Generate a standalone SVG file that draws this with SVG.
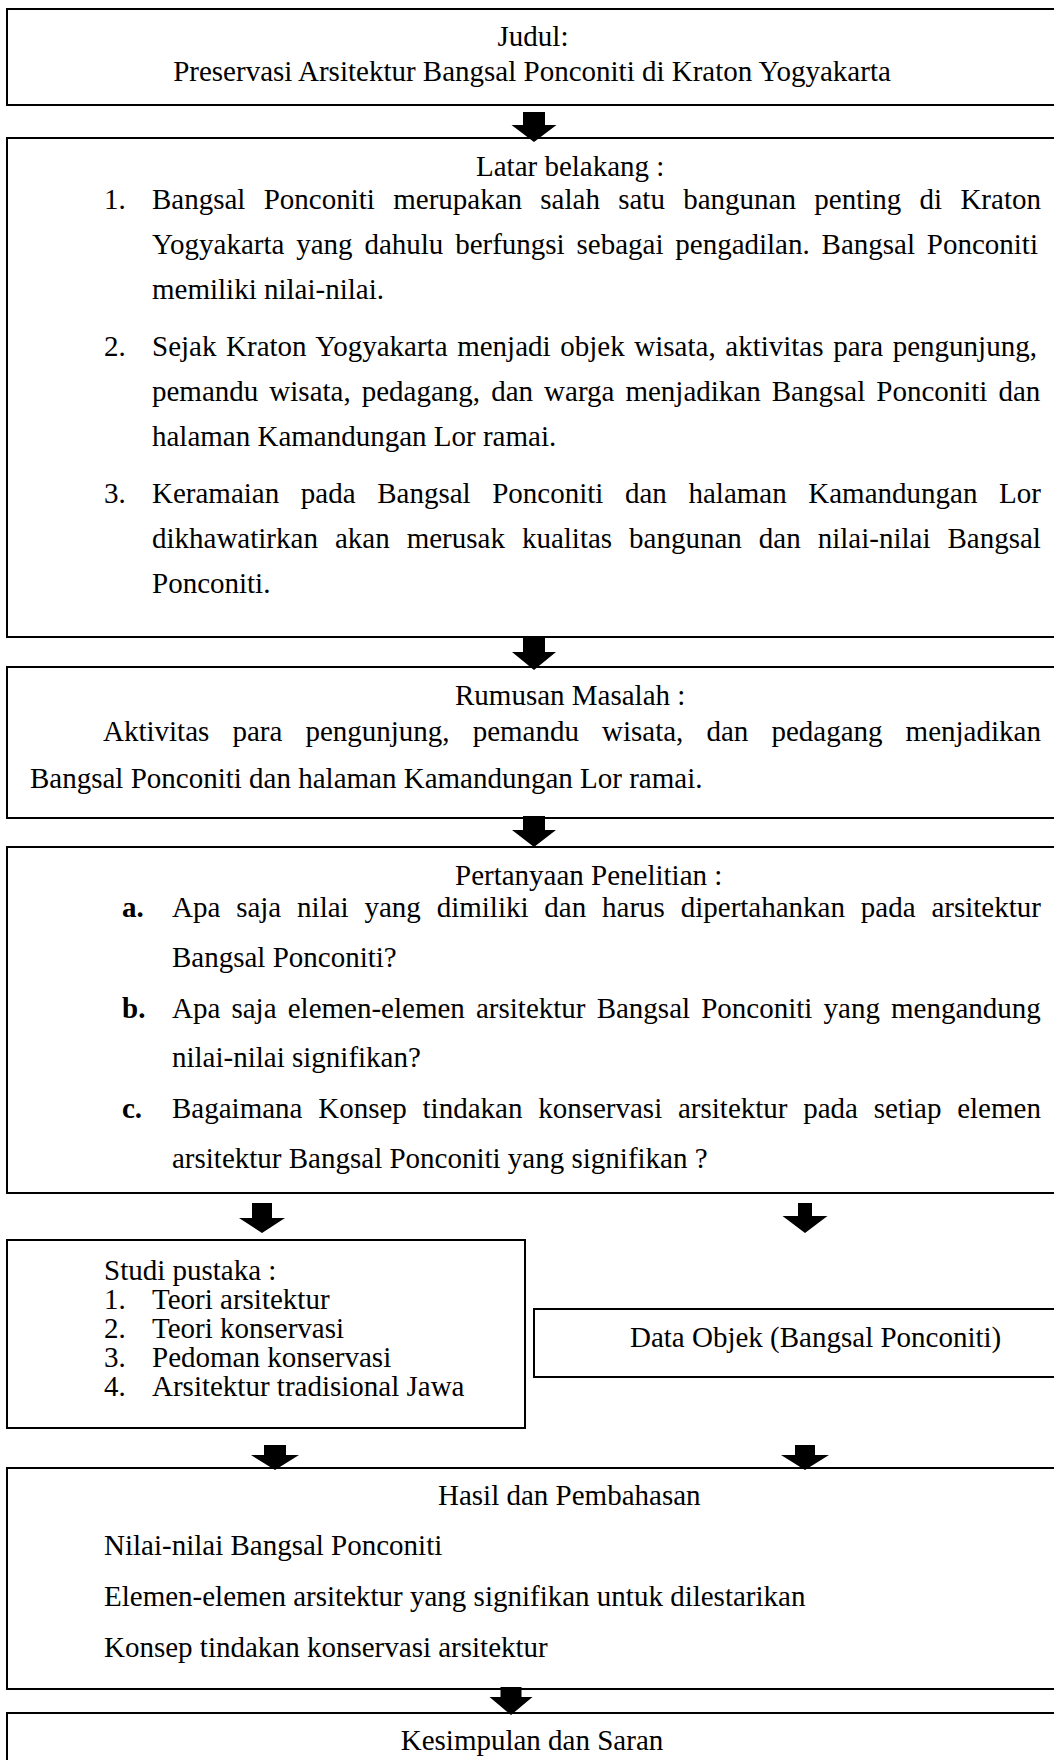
<svg xmlns="http://www.w3.org/2000/svg" width="1054" height="1760" viewBox="0 0 1054 1760">
<style>
.box{fill:none;stroke:#000;stroke-width:2}
.t{font-family:"Liberation Serif","Times New Roman",serif;font-size:29px;fill:#000}
.c{text-anchor:middle}
.b{font-weight:bold}
.arr{fill:#000}
</style>
<rect x="0" y="0" width="1054" height="1760" fill="#fff"/>
<g id="judul">
<rect class="box" x="7" y="9" width="1060" height="96"/>
<text class="t c" x="533" y="46">Judul:</text>
<text class="t c" x="532" y="81">Preservasi Arsitektur Bangsal Ponconiti di Kraton Yogyakarta</text>
</g>
<g id="latar">
<rect class="box" x="7" y="138" width="1060" height="499"/>
<text class="t" x="476" y="176">Latar belakang :</text>
<text class="t" x="104" y="209">1.</text>
<text class="t" x="152" y="209" word-spacing="11.05">Bangsal Ponconiti merupakan salah satu bangunan penting di Kraton</text>
<text class="t" x="152" y="254" word-spacing="4.57">Yogyakarta yang dahulu berfungsi sebagai pengadilan. Bangsal Ponconiti</text>
<text class="t" x="152" y="299">memiliki nilai-nilai.</text>
<text class="t" x="104" y="356">2.</text>
<text class="t" x="152" y="356" word-spacing="2.39">Sejak Kraton Yogyakarta menjadi objek wisata, aktivitas para pengunjung,</text>
<text class="t" x="152" y="401" word-spacing="3.8">pemandu wisata, pedagang, dan warga menjadikan Bangsal Ponconiti dan</text>
<text class="t" x="152" y="446">halaman Kamandungan Lor ramai.</text>
<text class="t" x="104" y="503">3.</text>
<text class="t" x="152" y="503" word-spacing="14.36">Keramaian pada Bangsal Ponconiti dan halaman Kamandungan Lor</text>
<text class="t" x="152" y="548" word-spacing="9.76">dikhawatirkan akan merusak kualitas bangunan dan nilai-nilai Bangsal</text>
<text class="t" x="152" y="593">Ponconiti.</text>
</g>
<g id="rumusan">
<rect class="box" x="7" y="667" width="1060" height="151"/>
<text class="t" x="455" y="705">Rumusan Masalah :</text>
<text class="t" x="103" y="741" word-spacing="15.83">Aktivitas para pengunjung, pemandu wisata, dan pedagang menjadikan</text>
<text class="t" x="30" y="788">Bangsal Ponconiti dan halaman Kamandungan Lor ramai.</text>
</g>
<g id="pertanyaan">
<rect class="box" x="7" y="847" width="1060" height="346"/>
<text class="t" x="455" y="885">Pertanyaan Penelitian :</text>
<text class="t b" x="122" y="917">a.</text>
<text class="t" x="172" y="917" word-spacing="8.59">Apa saja nilai yang dimiliki dan harus dipertahankan pada arsitektur</text>
<text class="t" x="172" y="967">Bangsal Ponconiti?</text>
<text class="t b" x="122" y="1018">b.</text>
<text class="t" x="172" y="1018" word-spacing="3.9">Apa saja elemen-elemen arsitektur Bangsal Ponconiti yang mengandung</text>
<text class="t" x="172" y="1067">nilai-nilai signifikan?</text>
<text class="t b" x="122" y="1118">c.</text>
<text class="t" x="172" y="1118" word-spacing="8.51">Bagaimana Konsep tindakan konservasi arsitektur pada setiap elemen</text>
<text class="t" x="172" y="1168">arsitektur Bangsal Ponconiti yang signifikan ?</text>
</g>
<g id="studi">
<rect class="box" x="7" y="1240" width="518" height="188"/>
<text class="t" x="104" y="1280">Studi pustaka :</text>
<text class="t" x="104" y="1309">1.</text>
<text class="t" x="152" y="1309">Teori arsitektur</text>
<text class="t" x="104" y="1338">2.</text>
<text class="t" x="152" y="1338">Teori konservasi</text>
<text class="t" x="104" y="1367">3.</text>
<text class="t" x="152" y="1367">Pedoman konservasi</text>
<text class="t" x="104" y="1396">4.</text>
<text class="t" x="152" y="1396">Arsitektur tradisional Jawa</text>
</g>
<g id="data">
<rect class="box" x="534" y="1309" width="530" height="68"/>
<text class="t" x="630" y="1347">Data Objek (Bangsal Ponconiti)</text>
</g>
<g id="hasil">
<rect class="box" x="7" y="1468" width="1060" height="221"/>
<text class="t" x="438" y="1505">Hasil dan Pembahasan</text>
<text class="t" x="104" y="1555">Nilai-nilai Bangsal Ponconiti</text>
<text class="t" x="104" y="1606">Elemen-elemen arsitektur yang signifikan untuk dilestarikan</text>
<text class="t" x="104" y="1657">Konsep tindakan konservasi arsitektur</text>
</g>
<g id="kesimpulan">
<rect class="box" x="7" y="1713" width="1060" height="70"/>
<text class="t c" x="532" y="1750">Kesimpulan dan Saran</text>
</g>
<g id="connectors">
<polygon class="arr" points="523,112 545,112 545,125 556.5,125 534,142 511.5,125 523,125"/>
<polygon class="arr" points="523,638 545,638 545,652 556,652 534,670 512,652 523,652"/>
<polygon class="arr" points="523,816 545,816 545,830 556,830 534,847 512,830 523,830"/>
<polygon class="arr" points="252,1203 272,1203 272,1218 285,1218 262,1233 239,1218 252,1218"/>
<polygon class="arr" points="798,1203 812,1203 812,1216 827.5,1216 805,1233 782.5,1216 798,1216"/>
<polygon class="arr" points="264,1445 286,1445 286,1455 299,1455 275,1470 251,1455 264,1455"/>
<polygon class="arr" points="795,1445 815,1445 815,1455 829,1455 805,1470 781,1455 795,1455"/>
<polygon class="arr" points="500.5,1687 521.5,1687 521.5,1697 532.5,1697 511,1715 489.5,1697 500.5,1697"/>
</g>
</svg>
